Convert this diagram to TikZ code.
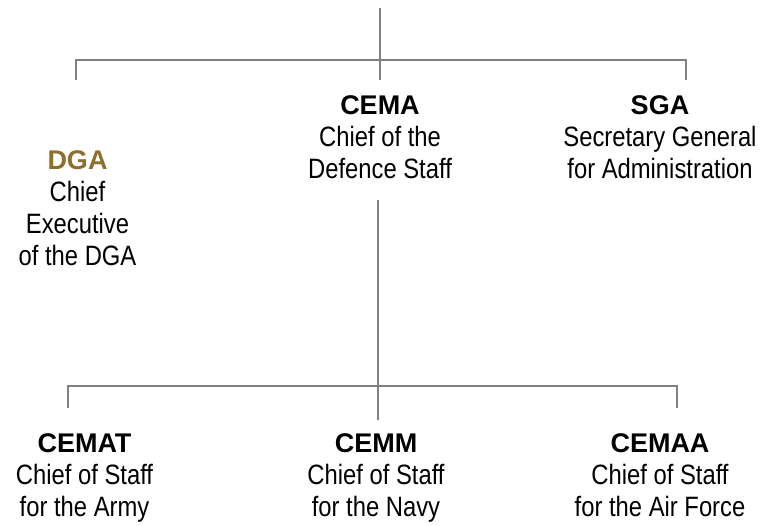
\documentclass[tikz,border=0pt]{standalone}
\usepackage{fontspec}
\setmainfont[FakeStretch=0.85]{Liberation Sans}
\newfontfamily\headfont{Liberation Sans}
\begin{document}
\begin{tikzpicture}[x=1pt,y=-1pt,
  link/.style={draw=black!50, line width=1.6pt},
  post/.style={align=center, anchor=north, font=\fontsize{28}{32}\selectfont, inner sep=0pt}]
\useasboundingbox (0,0) rectangle (764,526);
\definecolor{dgagold}{RGB}{140,110,45}
\newcommand\posttitle[1]{{\headfont\bfseries\fontsize{27}{32}\selectfont #1}}

% posts
\node[post] (cema) at (380,95) {\posttitle{CEMA}\\Chief of the\\Defence Staff};
\node[post] (sga) at (660,95) {\posttitle{SGA}\\Secretary General\\for Administration};
\node[post] (dga) at (77.5,150) {\posttitle{\color{dgagold}DGA}\\Chief\\Executive\\of the DGA};
\node[post] (cemat) at (84.5,433) {\posttitle{CEMAT}\\Chief of Staff\\for the Army};
\node[post] (cemm) at (376,433) {\posttitle{CEMM}\\Chief of Staff\\for the Navy};
\node[post] (cemaa) at (660,433) {\posttitle{CEMAA}\\Chief of Staff\\for the Air Force};

% upper tier
\coordinate (root) at (380,8);
\coordinate (upj) at (380,60);
\coordinate (upc) at (380,80);
\coordinate (upl) at (76,60);
\coordinate (upld) at (76,80);
\coordinate (upr) at (686,60);
\coordinate (uprd) at (686,80);
\draw[link] (root) -- (upc);
\draw[link] (upld) -- (upl) -- (upr) -- (uprd);

% lower tier
\coordinate (cemafoot) at (378,200);
\coordinate (lowj) at (378,386);
\coordinate (lowc) at (378,420);
\coordinate (lowl) at (68,386);
\coordinate (lowld) at (68,408);
\coordinate (lowr) at (677,386);
\coordinate (lowrd) at (677,408);
\draw[link] (cemafoot) -- (lowc);
\draw[link] (lowld) -- (lowl) -- (lowr) -- (lowrd);
\end{tikzpicture}
\end{document}
